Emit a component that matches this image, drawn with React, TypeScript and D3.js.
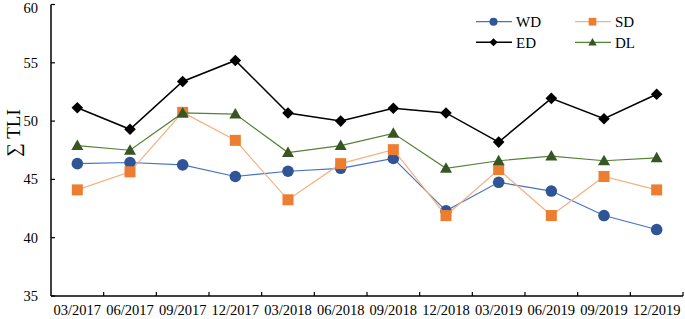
import React from "react";
import * as d3 from "d3";

const categories = ["03/2017","06/2017","09/2017","12/2017","03/2018","06/2018","09/2018","12/2018","03/2019","06/2019","09/2019","12/2019"];
const wd = [46.35, 46.45, 46.25, 45.25, 45.7, 45.95, 46.8, 42.3, 44.75, 44.0, 41.9, 40.7];
const sd = [44.1, 45.65, 50.75, 48.35, 43.25, 46.35, 47.55, 41.9, 45.85, 41.9, 45.25, 44.1];
const ed = [51.15, 49.3, 53.4, 55.2, 50.7, 50.0, 51.1, 50.7, 48.2, 51.95, 50.2, 52.3];
const dl = [47.9, 47.5, 50.7, 50.6, 47.3, 47.9, 48.95, 45.95, 46.6, 47.0, 46.6, 46.85];
const yTicks = [35, 40, 45, 50, 55, 60];

const W = 685, H = 319;
const left = 51, right = 683, top = 4.5, bottom = 296;
const font = "'Liberation Serif', 'Times New Roman', serif";

type Series = { name: string; values: number[]; line: string; fill: string; shape: string };
const series: Series[] = [
  { name: "WD", values: wd, line: "#4472C4", fill: "#2F5597", shape: "circle" },
  { name: "SD", values: sd, line: "#F4B183", fill: "#ED7D31", shape: "square" },
  { name: "ED", values: ed, line: "#000000", fill: "#000000", shape: "diamond" },
  { name: "DL", values: dl, line: "#548235", fill: "#375623", shape: "triangle" },
];

function Marker({ shape, x, y, s, fill }: { shape: string; x: number; y: number; s: number; fill: string }) {
  if (shape === "circle") return <circle cx={x} cy={y} r={s * 0.58} fill={fill} />;
  if (shape === "square") return <rect x={x - s * 0.55} y={y - s * 0.55} width={s * 1.1} height={s * 1.1} fill={fill} />;
  if (shape === "diamond") {
    const r = s * 0.58;
    return <polygon points={`${x},${y - r} ${x + r},${y} ${x},${y + r} ${x - r},${y}`} fill={fill} />;
  }
  const h = s * 1.0;
  return <polygon points={`${x},${y - h * 0.6} ${x + h * 0.6},${y + h * 0.45} ${x - h * 0.6},${y + h * 0.45}`} fill={fill} />;
}

export default function App() {
  const x = d3.scaleBand<string>().domain(categories).range([left, right]);
  const y = d3.scaleLinear().domain([35, 60]).range([bottom, top]);
  const cx = (c: string) => (x(c) as number) + x.bandwidth() / 2;

  const lineGen = (vals: number[]) =>
    d3.line<number>().x((_, i) => cx(categories[i])).y((v) => y(v))(vals) as string;

  const legend = [
    { s: series[0], lx: 476, ly: 21.7 },
    { s: series[1], lx: 575, ly: 21.7 },
    { s: series[2], lx: 476, ly: 42.3 },
    { s: series[3], lx: 575, ly: 42.3 },
  ];

  return (
    <svg width={W} height={H} style={{ position: "absolute", left: 0, top: 0, background: "#fff" }} fontFamily={font}>
      <line x1={left} x2={left} y1={top} y2={bottom} stroke="#000" strokeWidth={1.5} />
      <line x1={left} x2={right} y1={bottom} y2={bottom} stroke="#000" strokeWidth={1.5} />
      {yTicks.map((t) => (
        <g key={t}>
          <line x1={left} x2={left + 4} y1={y(t)} y2={y(t)} stroke="#000" strokeWidth={1.2} />
          <text x={38} y={Math.max(y(t), 8)} dy="0.35em" textAnchor="end" fontSize={14.5} fill="#000">{t}</text>
        </g>
      ))}
      {categories.map((c, i) => (
        <g key={c}>
          {i > 0 && <line x1={x(c) as number} x2={x(c) as number} y1={bottom} y2={bottom - 4} stroke="#000" strokeWidth={1.2} />}
          <text x={cx(c)} y={315} textAnchor="middle" fontSize={14.5} fill="#000">{c}</text>
        </g>
      ))}
      <line x1={right} x2={right} y1={bottom} y2={bottom - 4} stroke="#000" strokeWidth={1.2} />
      <text transform={`translate(20,133) rotate(-90)`} textAnchor="middle" fontSize={19} fill="#000">∑ TLI</text>

      {series.map((s) => (
        <g key={s.name}>
          <path d={lineGen(s.values)} fill="none" stroke={s.line} strokeWidth={s.name === "ED" ? 1.5 : 1.2} />
          {s.values.map((v, i) => (
            <Marker key={i} shape={s.shape} x={cx(categories[i])} y={y(v)} s={10} fill={s.fill} />
          ))}
        </g>
      ))}

      {legend.map(({ s, lx, ly }) => (
        <g key={s.name}>
          <line x1={lx} x2={lx + 36} y1={ly} y2={ly} stroke={s.line} strokeWidth={s.name === "ED" ? 1.5 : 1.2} />
          <Marker shape={s.shape} x={lx + 17.5} y={ly} s={7} fill={s.fill} />
          <text x={lx + 40} y={ly} dy="0.35em" fontSize={15} fill="#000">{s.name}</text>
        </g>
      ))}
    </svg>
  );
}
